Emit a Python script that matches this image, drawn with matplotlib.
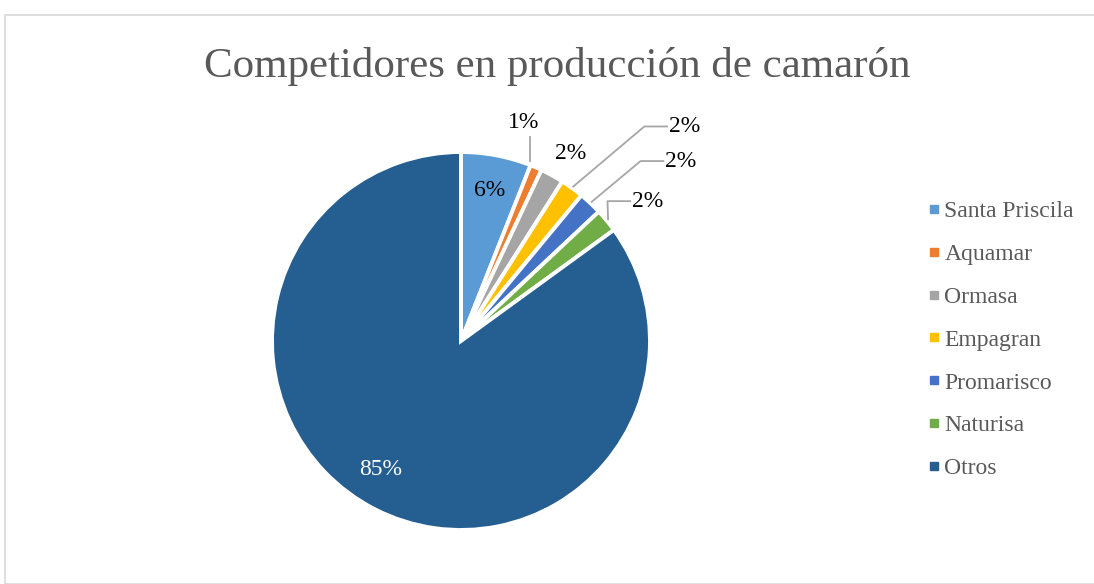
import numpy as np
from matplotlib import pyplot as plt
from matplotlib.lines import Line2D
from matplotlib.patches import Rectangle

# datos del grafico
empresas = ["Santa Priscila", "Aquamar", "Ormasa", "Empagran", "Promarisco", "Naturisa", "Otros"]
porcentajes = [6, 1, 2, 2, 2, 2, 85]
colores = ["#5B9BD5", "#ED7D31", "#A5A5A5", "#FFC000", "#4472C4", "#70AD47", "#255E91"]

plt.rcParams['font.family'] = ['Liberation Serif', 'DejaVu Serif']
gris = "#595959"

fig = plt.figure(figsize=(10.94, 5.84), dpi=100)
W, H = 1094, 584

# marco del grafico
fig.patches.append(Rectangle((5 / W, 0), 1, (H - 15) / H, transform=fig.transFigure,
                             fill=False, edgecolor="#D9D9D9", linewidth=1.2))

fig.text(557 / W, 1 - 66 / H, "Competidores en producción de camarón",
         ha="center", va="center", fontsize=31, color=gris)

# ejes del pie: centro (461, 341) px, radio 189 px
cx, cy, R, k = 461, 341, 189, 1.5
half = R * k
ax = fig.add_axes([(cx - half) / W, (H - cy - half) / H, 2 * half / W, 2 * half / H])

wedges, _ = ax.pie(porcentajes, colors=colores, startangle=90, counterclock=False,
                   radius=1, wedgeprops=dict(edgecolor="white", linewidth=2.8))
ax.set_xlim(-k, k)
ax.set_ylim(-k, k)
ax.set_aspect("equal")
ax.axis("off")

for w in wedges:
    w.set_clip_on(False)

def punto(w, r, giro=0):
    ang = np.deg2rad((w.theta1 + w.theta2) / 2 + giro)
    return r * np.cos(ang), r * np.sin(ang)

# etiquetas dentro (Santa Priscila y Otros)
x, y = punto(wedges[0], 0.81)
ax.text(x, y, f"{porcentajes[0]}%", ha="center", va="center", fontsize=17, color="black")
x, y = punto(wedges[6], 0.8, giro=-5)
ax.text(x, y, f"{porcentajes[6]}%", ha="center", va="center", fontsize=17, color="white")

# etiquetas fuera con lineas guia
pos_texto = {1: (0.333, 1.155), 2: (0.582, 0.99), 3: (1.10, 1.135), 4: (1.08, 0.952), 5: (0.905, 0.74)}
for i, (tx, ty) in pos_texto.items():
    if i in (1, 2):
        ax.text(tx, ty, f"{porcentajes[i]}%", ha="center", va="center", fontsize=17)
        if i == 1:
            ax.plot([0.365, 0.365], [1.08, 0.955], color="#A6A6A6", lw=1.3, clip_on=False)
    else:
        ax.text(tx, ty, f"{porcentajes[i]}%", ha="left", va="center", fontsize=17)
        x0, y0 = punto(wedges[i], 1.01)
        ax.plot([x0, tx - 0.13, tx - 0.01], [y0, ty, ty], color="#A6A6A6", lw=1.3, clip_on=False)

handles = [Line2D([], [], marker="s", linestyle="none", markersize=6, color=c) for c in colores]
fig.legend(handles, empresas, loc="center left", bbox_to_anchor=(903 / W, 1 - 340 / H),
           frameon=False, fontsize=17, labelcolor=gris, handletextpad=0.05,
           labelspacing=0.9, handlelength=0.8)

fig.savefig("out.png", dpi=100)
